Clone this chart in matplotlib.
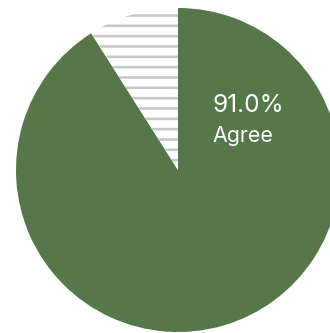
import matplotlib
matplotlib.use("Agg")
import matplotlib.pyplot as plt

labels = ["Agree", "Other"]
values = [91.0, 9.0]
colors = ["#56774a", "#ffffff"]

DPI = 124
W, H = 330, 333
plt.rcParams['hatch.linewidth'] = 1.5
fig = plt.figure(figsize=(W / DPI, H / DPI), dpi=DPI)
cx, cy, r = 178, 170, 162
ax = fig.add_axes([(cx - r) / W, (H - cy - r) / H, 2 * r / W, 2 * r / H])
wedges, _ = ax.pie(values, colors=colors, startangle=90, counterclock=False,
                   wedgeprops=dict(linewidth=0))
wedges[1].set_edgecolor("#c8c8c4")
wedges[1].set_hatch("--")
wedges[1].set_linewidth(0)
ax.set_xlim(-1, 1)
ax.set_ylim(-1, 1)
ax.set_aspect("equal")
ax.axis("off")

ax.text(0.21, 0.36, f"{values[0]:.1f}%", color="white", fontsize=14.2,
        family="Inter", ha="left", va="baseline")
ax.text(0.21, 0.17, labels[0], color="white", fontsize=12.4,
        family="Inter", ha="left", va="baseline")

fig.savefig("out.png", dpi=DPI)
